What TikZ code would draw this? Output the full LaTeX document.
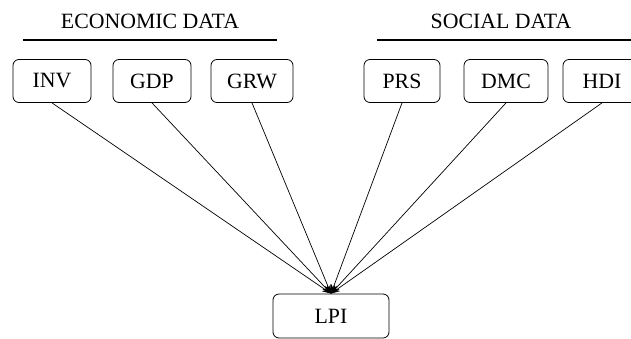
\documentclass[tikz,border=0pt]{standalone}
\usepackage{fontspec}
\setmainfont{Liberation Serif}
\usetikzlibrary{arrows.meta}
\begin{document}
\begin{tikzpicture}[x=0.5pt,y=-0.5pt,node distance=50pt,
	databox/.style={draw,rounded corners=3pt,minimum width=39pt,minimum height=21.5pt,inner sep=0pt,font=\fontsize{10.9}{12}\selectfont},
	grouphead/.style={font=\fontsize{10.9}{12}\selectfont},
	feed/.style={-{Stealth[length=4.5pt,width=3.2pt]},line width=0.35pt}]
		\useasboundingbox (0,0) rectangle (631,338);
		\clip (0,0) rectangle (631,338);
		\node(EcoHead)[grouphead]	at (150,21.5)		{ECONOMIC DATA};
		\node(SocHead)[grouphead]	at (501,21.5)		{SOCIAL DATA};
		\draw[line width=0.75pt] (23,40) -- (277,40);
		\draw[line width=0.75pt] (377,40) -- (640,40);
		\node(INV)[databox]			at (52,81)			{INV};
		\node(GDP)[databox]			[right of=INV]		{GDP};
		\node(GRW)[databox,minimum width=41pt]	[right of=GDP]		{GRW};
		\node(PRS)[databox,minimum width=38pt]	[right of=GRW,xshift=25pt]	{PRS};
		\node(DMC)[databox,minimum width=42pt]	[right of=PRS,xshift=2pt]	{DMC};
		\node(HDI)[databox]			[right of=DMC,xshift=-2pt]	{HDI};
		\node(LPI)[databox,minimum width=58pt,minimum height=22pt]	at (331,316)	{LPI};
		\draw[feed](INV.south)      -- (LPI.north);
		\draw[feed](GDP.south)      -- (LPI.north);
		\draw[feed](GRW.south)      -- (LPI.north);
		\draw[feed](PRS.south)      -- (LPI.north);
		\draw[feed](DMC.south)      -- (LPI.north);
		\draw[feed](HDI.south)      -- (LPI.north);
\end{tikzpicture}
\end{document}
